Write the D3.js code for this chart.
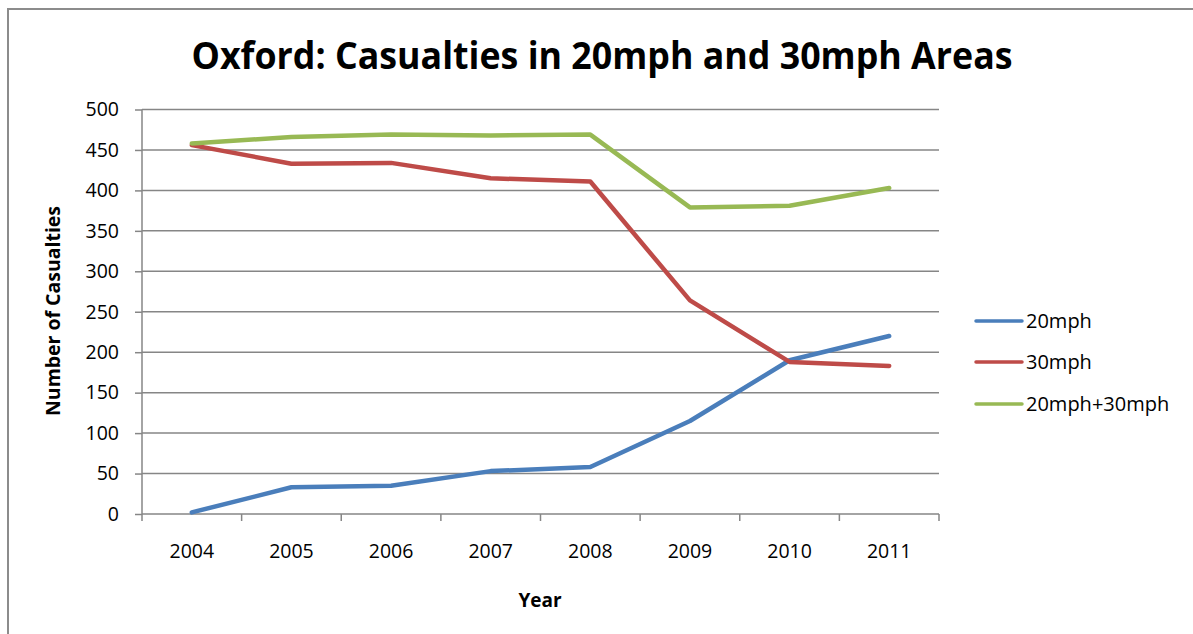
<!DOCTYPE html>
<html><head><meta charset="utf-8">
<script src="https://cdn.jsdelivr.net/npm/d3@7"></script>
<style>
html,body{margin:0;padding:0;background:#fff;overflow:hidden;}
svg{display:block;}
</style></head>
<body>
<script>
const years = ["2004","2005","2006","2007","2008","2009","2010","2011"];
const mph20 = [2,33,35,53,58,115,190,220];
const mph30 = [456,433,434,415,411,264,188,183];
const mph20plus30 = [458,466,469,468,469,379,381,403];
const seriesNames = ["20mph","30mph","20mph+30mph"];
const seriesColors = ["#4a7ebb","#be4b48","#98b954"];
const yTicks = [0,50,100,150,200,250,300,350,400,450,500];
const title = "Oxford: Casualties in 20mph and 30mph Areas";

(function(){
const W = 1193, H = 634;
const svg = d3.select("body").append("svg").attr("width", W).attr("height", H);
const font = "'Open Sans', 'DejaVu Sans', sans-serif";

// chart frame (top and left edges visible)
svg.append("path").attr("d", `M8,${H+5} L8,9 L${W+5},9`).attr("fill","none")
  .attr("stroke","#8c8c8c").attr("stroke-width",2);

const pl = 142, pr = 939, pt = 109.5, pb = 514;
const x = d3.scaleBand().domain(years).range([pl, pr]);
const y = d3.scaleLinear().domain([0,500]).range([pb, pt]);

// gridlines
svg.append("g").selectAll("line").data(yTicks.filter(d=>d>0)).join("line")
  .attr("x1", pl).attr("x2", pr).attr("y1", d=>y(d)).attr("y2", d=>y(d))
  .attr("stroke","#868686").attr("stroke-width",1.5);

// y axis
const yAxis = svg.append("g").attr("transform",`translate(${pl},0)`)
  .call(d3.axisLeft(y).tickValues(yTicks).tickSize(7).tickPadding(16));
yAxis.select(".domain").attr("stroke","#868686").attr("stroke-width",1.5).attr("d",`M0,${pb}V${pt}`);
yAxis.selectAll(".tick line").attr("stroke","#868686").attr("stroke-width",1.5);
yAxis.selectAll("text").attr("font-family",font).attr("font-size",19.5).attr("fill","#000");

// x axis
const xAxis = svg.append("g").attr("transform",`translate(0,${pb})`)
  .call(d3.axisBottom(x).tickSize(0).tickPadding(30));
xAxis.select(".domain").attr("stroke","#868686").attr("stroke-width",1.5).attr("d",`M${pl},0H${pr}`);
xAxis.selectAll("text").attr("font-family",font).attr("font-size",19.5).attr("fill","#000");
// category boundary ticks
const bounds = years.map(d=>x(d)).concat([pr]);
svg.append("g").selectAll("line").data(bounds).join("line")
  .attr("x1",d=>d).attr("x2",d=>d).attr("y1",pb).attr("y2",pb+7)
  .attr("stroke","#868686").attr("stroke-width",1.5);

// lines
const data = [mph20, mph30, mph20plus30];
const line = d3.line().x((d,i)=>x(years[i]) + x.bandwidth()/2).y(d=>y(d));
data.forEach((s,k)=>{
  svg.append("path").datum(s).attr("d", line).attr("fill","none")
    .attr("stroke", seriesColors[k]).attr("stroke-width",4.5)
    .attr("stroke-linejoin","round").attr("stroke-linecap","round");
});

// title
svg.append("text").attr("x", 602).attr("y", 69).attr("text-anchor","middle")
  .attr("font-family", font).attr("font-weight","bold").attr("font-size",38)
  .attr("textLength", 821).attr("lengthAdjust","spacingAndGlyphs")
  .text(title);

// axis titles
svg.append("text").attr("transform","translate(60,311) rotate(-90)")
  .attr("text-anchor","middle").attr("font-family",font).attr("font-weight","bold")
  .attr("font-size",19).attr("textLength",210).attr("lengthAdjust","spacingAndGlyphs")
  .text("Number of Casualties");
svg.append("text").attr("x",540).attr("y",607).attr("text-anchor","middle")
  .attr("font-family",font).attr("font-weight","bold").attr("font-size",19).text("Year");

// legend
const legY = [321, 362, 404];
const leg = svg.append("g");
seriesNames.forEach((n,k)=>{
  leg.append("line").attr("x1",976).attr("x2",1022).attr("y1",legY[k]).attr("y2",legY[k])
    .attr("stroke",seriesColors[k]).attr("stroke-width",3.5).attr("stroke-linecap","round");
  leg.append("text").attr("x",1026).attr("y",legY[k]+7).attr("font-family",font)
    .attr("font-size",20).attr("fill","#000").text(n);
});
})();
</script>
</body></html>
